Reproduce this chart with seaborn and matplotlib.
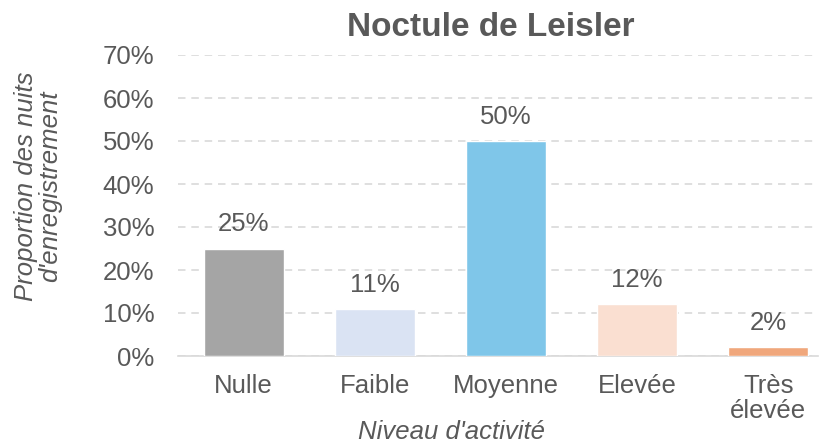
import matplotlib

matplotlib.use("Agg")

import matplotlib.pyplot as plt
import pandas as pd
import seaborn as sns
from matplotlib.ticker import PercentFormatter

CATEGORIES = ["Nulle", "Faible", "Moyenne", "Elevée", "Très\nélevée"]
VALUES = [25, 11, 50, 12, 2]
BAR_COLORS = ["#A5A5A5", "#DAE3F3", "#7FC6E9", "#FADFD1", "#F0A77C"]

TITLE = "Noctule de Leisler"
XLABEL = "Niveau d'activité"
YLABEL = "Proportion des nuits\nd'enregistrement"
TEXT = "#595959"
FS = 18.5


def main():
    sns.set_style("white")
    plt.rcParams["font.family"] = ["Liberation Sans", "DejaVu Sans"]

    df = pd.DataFrame({"niveau": CATEGORIES, "valeur": VALUES})

    fig = plt.figure(figsize=(8.22, 4.46), dpi=100)
    ax = fig.add_axes([178 / 822, 1 - 356 / 446, (818 - 178) / 822, (356 - 55) / 446])

    sns.barplot(
        data=df,
        x="niveau",
        y="valeur",
        hue="niveau",
        palette=BAR_COLORS,
        saturation=1,
        width=0.61,
        legend=False,
        ax=ax,
        zorder=3,
    )

    for patch, val in zip(ax.patches, VALUES):
        ax.text(
            patch.get_x() + patch.get_width() / 2,
            val + 5.6,
            f"{val}%",
            ha="center",
            va="center",
            fontsize=FS,
            color=TEXT,
        )

    ax.set_ylim(0, 70)
    ax.set_xlim(-0.5, 4.38)
    ax.set_yticks(range(0, 71, 10))
    ax.yaxis.set_major_formatter(PercentFormatter(decimals=0))
    ax.grid(axis="y", color="#D9D9D9", linestyle=(0, (4.5, 3.5)), linewidth=1.2, zorder=0)
    for side in ["top", "right", "left"]:
        ax.spines[side].set_visible(False)
    ax.spines["bottom"].set_color("#D9D9D9")
    ax.spines["bottom"].set_linewidth(1.2)
    ax.tick_params(axis="both", length=0, labelsize=FS, colors=TEXT)
    ax.tick_params(axis="y", pad=17)
    ax.tick_params(axis="x", pad=13)
    for lbl in ax.get_xticklabels():
        lbl.set_linespacing(1.05)

    ax.set_xlabel("")
    ax.set_ylabel("")
    fig.text(451 / 822, 1 - 432 / 446, XLABEL, ha="center", va="center",
             fontsize=FS, style="italic", color=TEXT)
    fig.text(38 / 822, 1 - 186 / 446, YLABEL, rotation=90, ha="center", va="center",
             fontsize=FS, style="italic", color=TEXT, linespacing=1.05)
    fig.text(491 / 822, 1 - 28 / 446, TITLE, ha="center", va="center",
             fontsize=24, fontweight="bold", color=TEXT)

    fig.savefig("out.png", dpi=100)
    plt.close(fig)


if __name__ == "__main__":
    main()
